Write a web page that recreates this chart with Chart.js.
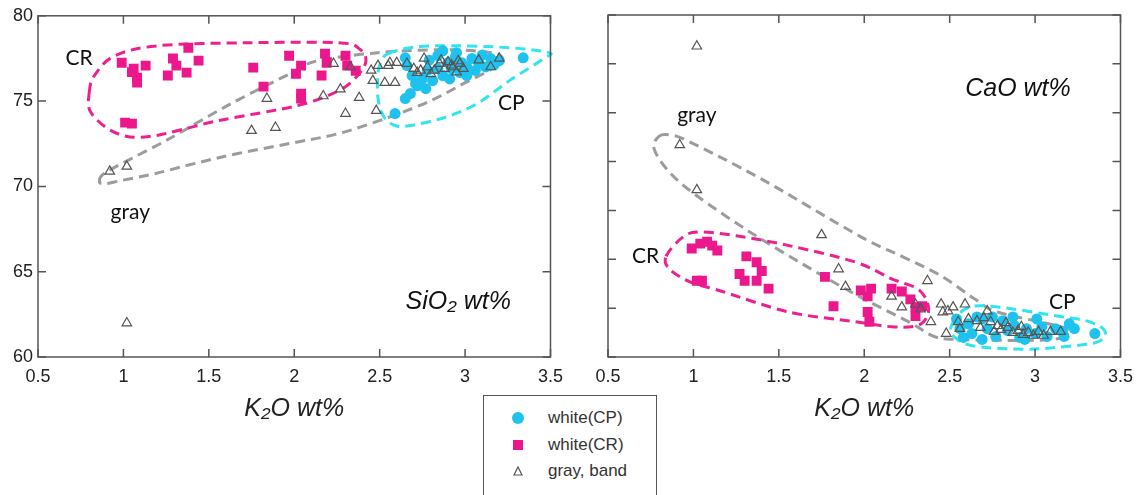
<!DOCTYPE html>
<html lang="en">
<head>
<meta charset="UTF-8">
<title>K2O vs SiO2 / CaO</title>
<script src="https://cdn.jsdelivr.net/npm/chart.js"></script>
<style>
  body { margin: 0; background: #fff; width: 1142px; height: 495px; overflow: hidden; position: relative; font-family: "Liberation Sans", Arial, sans-serif; }
  .panel { position: absolute; top: 0; width: 572px; height: 430px; }
  #leftBox { left: 0; }
  #rightBox { left: 570px; }
  #legend { position: absolute; left: 483px; top: 395px; width: 172px; height: 110px; border: 1.5px solid #555; background: #fff; z-index: 5; }
  .row { position: absolute; left: 0; height: 20px; width: 100%; }
  .row span.txt { position: absolute; left: 64px; top: 0; font-size: 17px; line-height: 20px; color: #333; }
  .mk { position: absolute; }
</style>
</head>
<body>
<div class="panel" id="leftBox"><canvas id="siChart"></canvas></div>
<div class="panel" id="rightBox"><canvas id="caChart"></canvas></div>
<div id="legend"></div>

<script>
// ---- data ----
const seriesNames = ['white(CP)', 'white(CR)', 'gray, band'];
const xTicks = [0.5, 1, 1.5, 2, 2.5, 3, 3.5];
const siTicks = [60, 65, 70, 75, 80];

// SiO2 panel
const siCPx = [2.65, 2.66, 2.69, 2.71, 2.65, 2.59, 2.68, 2.72, 2.75, 2.78, 2.79, 2.84, 2.84, 2.87, 2.90, 2.92, 2.94, 2.97, 2.98, 3.01, 3.04, 3.06, 3.08, 3.12, 3.15, 3.17, 3.20, 3.34, 2.81, 2.77, 2.91, 3.01, 3.10, 2.87, 2.95];
const siCPy = [77.54, 77.08, 76.49, 76.02, 75.15, 74.27, 75.44, 75.90, 76.30, 76.80, 77.40, 77.66, 76.90, 76.49, 77.25, 76.90, 77.54, 76.67, 77.25, 77.00, 77.50, 76.80, 77.25, 77.00, 77.49, 77.13, 77.37, 77.54, 76.20, 75.73, 76.30, 76.50, 77.70, 77.95, 77.84];
const siCRx = [0.99, 1.06, 1.08, 1.08, 1.05, 1.13, 1.26, 1.29, 1.31, 1.37, 1.38, 1.44, 1.01, 1.05, 1.76, 1.82, 1.97, 2.01, 2.04, 2.04, 2.04, 2.16, 2.18, 2.19, 2.30, 2.31, 2.36];
const siCRy = [77.25, 76.90, 76.37, 76.08, 76.70, 77.08, 76.50, 77.50, 77.08, 76.67, 78.13, 77.37, 73.74, 73.68, 76.96, 75.85, 77.66, 76.60, 77.08, 75.44, 75.15, 76.50, 77.78, 77.25, 77.66, 77.08, 76.78];
const siGrayx = [0.92, 1.02, 1.02, 1.75, 1.84, 1.89, 2.17, 2.27, 2.30, 2.38, 2.23, 2.33, 2.45, 2.46, 2.48, 2.49, 2.53, 2.55, 2.56, 2.59, 2.60, 2.66, 2.72, 2.76, 2.78, 2.82, 2.85, 2.88, 2.90, 2.93, 2.95, 2.97, 2.99, 3.08, 3.15, 3.20, 2.70, 2.80, 2.86, 2.92, 2.96, 2.74];
const siGrayy = [70.88, 71.17, 61.99, 73.27, 75.15, 73.45, 75.30, 75.70, 74.27, 75.20, 77.20, 77.00, 76.80, 76.20, 74.44, 77.08, 76.08, 77.08, 77.25, 76.08, 77.25, 77.20, 76.67, 77.50, 77.00, 76.80, 77.20, 76.90, 77.30, 77.00, 76.70, 77.20, 76.90, 77.40, 77.00, 77.50, 76.90, 76.60, 77.40, 77.10, 77.35, 76.80];

// CaO panel (no tick labels in the source)
const caCPx = [2.54, 2.56, 2.61, 2.63, 2.69, 2.72, 2.77, 2.81, 2.84, 2.88, 2.91, 2.95, 3.00, 3.04, 3.07, 3.12, 3.16, 3.20, 3.23, 3.35, 2.66, 2.75, 2.87, 3.01, 3.17, 2.58, 2.69, 2.94];
const caCPy = [0.39, 0.29, 0.34, 0.24, 0.39, 0.29, 0.21, 0.37, 0.27, 0.32, 0.20, 0.29, 0.24, 0.31, 0.21, 0.29, 0.26, 0.34, 0.29, 0.24, 0.41, 0.41, 0.41, 0.39, 0.21, 0.20, 0.18, 0.18];
const caCRx = [0.99, 1.04, 1.08, 1.11, 1.14, 1.02, 1.05, 1.31, 1.37, 1.40, 1.27, 1.30, 1.37, 1.44, 1.77, 1.82, 1.98, 2.02, 2.04, 2.02, 2.03, 2.16, 2.22, 2.27, 2.30, 2.30, 2.34];
const caCRy = [1.11, 1.16, 1.18, 1.14, 1.09, 0.78, 0.78, 1.03, 0.97, 0.88, 0.85, 0.78, 0.78, 0.70, 0.82, 0.52, 0.68, 0.62, 0.70, 0.46, 0.36, 0.70, 0.67, 0.59, 0.51, 0.42, 0.52];
const caGrayx = [1.02, 0.92, 1.02, 1.75, 1.85, 1.89, 2.37, 2.22, 2.16, 2.30, 2.33, 2.39, 2.45, 2.46, 2.49, 2.52, 2.48, 2.59, 2.61, 2.55, 2.56, 2.66, 2.72, 2.74, 2.78, 2.80, 2.84, 2.87, 2.90, 2.93, 2.96, 2.99, 3.02, 3.05, 3.09, 3.15, 2.70, 2.83, 2.92, 2.76, 2.68];
const caGrayy = [3.18, 2.17, 1.71, 1.25, 0.90, 0.72, 0.78, 0.51, 0.62, 0.54, 0.49, 0.36, 0.54, 0.46, 0.47, 0.51, 0.24, 0.54, 0.39, 0.36, 0.29, 0.37, 0.47, 0.36, 0.32, 0.28, 0.30, 0.25, 0.27, 0.23, 0.25, 0.22, 0.26, 0.22, 0.26, 0.26, 0.40, 0.35, 0.31, 0.26, 0.30];

// dashed group outlines, in data units
const siOutCR = [[0.80,75.5],[0.83,76.49],[0.95,77.66],[1.21,78.25],[1.73,78.42],[2.26,78.42],[2.38,78.07],[2.42,77.37],[2.37,76.49],[2.26,75.61],[2.02,74.74],[1.56,73.86],[1.15,72.92],[0.95,73.16],[0.81,74.33]];
const siOutGray = [[0.86,70.3],[0.91,70.9],[1.25,72.69],[1.63,74.85],[2.01,76.78],[2.14,77.37],[2.49,77.84],[2.88,78.01],[3.15,77.84],[3.22,77.49],[3.17,76.96],[2.99,76.02],[2.80,75.03],[2.55,74.04],[2.26,73.1],[1.97,72.51],[1.67,71.93],[1.42,71.35],[1.19,70.76],[0.99,70.35],[0.89,70.16]];
const siOutCP = [[2.55,77.78],[2.68,78.13],[2.88,78.25],[3.26,78.13],[3.49,77.84],[3.46,77.49],[3.26,76.2],[3.07,74.85],[2.88,74.04],[2.68,73.57],[2.59,73.57],[2.52,74.15],[2.49,75.2],[2.49,76.61],[2.51,77.37]];
const caOutGray = [[0.80,2.26],[0.87,2.27],[0.98,2.20],[1.40,1.82],[1.97,1.24],[2.22,1.03],[2.45,0.83],[2.65,0.59],[2.78,0.46],[3.13,0.32],[3.19,0.27],[3.14,0.19],[2.94,0.17],[2.55,0.18],[2.41,0.21],[2.26,0.36],[1.97,0.62],[1.66,0.93],[1.33,1.28],[1.02,1.65],[0.86,1.89],[0.77,2.13]];
const caOutCR = [[0.84,1.03],[0.94,1.23],[1.04,1.28],[1.25,1.24],[1.56,1.14],[1.95,0.97],[2.16,0.80],[2.31,0.70],[2.37,0.56],[2.37,0.42],[2.31,0.32],[2.16,0.31],[1.95,0.36],[1.56,0.46],[1.17,0.67],[0.98,0.77],[0.86,0.90]];
const caOutCP = [[2.51,0.32],[2.59,0.49],[2.74,0.52],[3.13,0.42],[3.32,0.36],[3.41,0.26],[3.36,0.15],[3.13,0.10],[2.94,0.08],[2.65,0.11],[2.53,0.20]];

const colCP = '#1ec2ef', colCR = '#ec178c', colGray = '#555';
const lineCP = '#2ee6f0', lineCR = '#ee1f8f', lineGray = '#9c9c9c';

function pts(xs, ys) { return xs.map((x, i) => ({ x: x, y: ys[i] })); }

function closedSpline(ctx, p) {
    const n = p.length;
    ctx.moveTo(p[0][0], p[0][1]);
    for (let i = 0; i < n; i++) {
        const p0 = p[(i - 1 + n) % n], p1 = p[i], p2 = p[(i + 1) % n], p3 = p[(i + 2) % n];
        ctx.bezierCurveTo(p1[0] + (p2[0] - p0[0]) / 6, p1[1] + (p2[1] - p0[1]) / 6,
                          p2[0] - (p3[0] - p1[0]) / 6, p2[1] - (p3[1] - p1[1]) / 6,
                          p2[0], p2[1]);
    }
    ctx.closePath();
}

function makeDecor(outlines, notes) {
    return {
        id: 'decor',
        beforeDatasetsDraw(chart) {
            const { ctx, scales: { x, y } } = chart;
            ctx.save();
            ctx.lineWidth = 3;
            ctx.setLineDash([10, 6]);
            outlines.forEach(o => {
                const p = o.pts.map(d => [x.getPixelForValue(d[0]), y.getPixelForValue(d[1])]);
                ctx.strokeStyle = o.color;
                ctx.beginPath();
                closedSpline(ctx, p);
                ctx.stroke();
            });
            ctx.restore();
        },
        afterDraw(chart) {
            const { ctx, chartArea: a, scales: { x, y } } = chart;
            ctx.save();
            // frame + inward ticks
            ctx.strokeStyle = '#555';
            ctx.lineWidth = 1.5;
            ctx.strokeRect(a.left, a.top, a.right - a.left, a.bottom - a.top);
            ctx.beginPath();
            x.ticks.forEach(t => {
                const px = x.getPixelForValue(t.value);
                ctx.moveTo(px, a.bottom); ctx.lineTo(px, a.bottom - 8);
                ctx.moveTo(px, a.top); ctx.lineTo(px, a.top + 8);
            });
            y.ticks.forEach(t => {
                const py = y.getPixelForValue(t.value);
                ctx.moveTo(a.left, py); ctx.lineTo(a.left + 8, py);
                ctx.moveTo(a.right, py); ctx.lineTo(a.right - 8, py);
            });
            ctx.stroke();
            // text notes
            ctx.fillStyle = '#111';
            ctx.textAlign = 'center';
            ctx.textBaseline = 'middle';
            notes.forEach(n => {
                ctx.font = n.font;
                ctx.fillText(n.text, x.getPixelForValue(n.x), y.getPixelForValue(n.y));
            });
            ctx.restore();
        }
    };
}

function makeChart(id, data, yMin, yMax, yStep, showY, outlines, notes) {
    const fam = '"Liberation Sans", Arial, sans-serif';
    return new Chart(document.getElementById(id), {
        type: 'scatter',
        data: {
            datasets: [
                { label: seriesNames[2], data: data[2], pointStyle: 'triangle', pointRadius: 5.5, backgroundColor: 'rgba(0,0,0,0)', borderColor: colGray, borderWidth: 1.2, order: 0 },
                { label: seriesNames[0], data: data[0], pointStyle: 'circle', pointRadius: 5.5, backgroundColor: colCP, borderColor: colCP, borderWidth: 0, order: 1 },
                { label: seriesNames[1], data: data[1], pointStyle: 'rect', pointRadius: 7, backgroundColor: colCR, borderColor: colCR, borderWidth: 0, order: 2 }
            ]
        },
        options: {
            responsive: true,
            maintainAspectRatio: false,
            animation: false,
            layout: { padding: { top: 15, right: 18, left: 0, bottom: 0 } },
            plugins: { legend: { display: false }, tooltip: { enabled: false } },
            scales: {
                x: {
                    type: 'linear', min: xTicks[0], max: xTicks[xTicks.length - 1],
                    afterBuildTicks: s => { s.ticks = xTicks.map(v => ({ value: v })); },
                    ticks: { callback: v => String(v), font: { size: 18, family: fam }, color: '#222', padding: 9, maxRotation: 0, autoSkip: false },
                    grid: { display: false, drawTicks: false },
                    border: { display: false },
                    title: { display: true, text: 'K\u2082O wt%', font: { size: 25, style: 'italic', family: fam }, color: '#222', padding: { top: 0, bottom: 6 } },
                    afterFit: s => { s.height = 73; }
                },
                y: {
                    type: 'linear', min: yMin, max: yMax,
                    ticks: { stepSize: yStep, display: showY, font: { size: 18, family: fam }, color: '#222', padding: 5 },
                    grid: { display: false, drawTicks: false },
                    border: { display: false },
                    afterFit: s => { s.width = 38; }
                }
            }
        },
        plugins: [makeDecor(outlines, notes)]
    });
}

const noteFont = '21px Lato, "Open Sans", sans-serif';
const italFont = 'italic 25px "Liberation Sans", Arial, sans-serif';

makeChart('siChart',
    [pts(siCPx, siCPy), pts(siCRx, siCRy), pts(siGrayx, siGrayy)],
    siTicks[0], siTicks[siTicks.length - 1], 5, true,
    [{ pts: siOutGray, color: lineGray }, { pts: siOutCR, color: lineCR }, { pts: siOutCP, color: lineCP }],
    [{ text: 'CR', x: 0.74, y: 77.5, font: noteFont },
     { text: 'gray', x: 1.04, y: 68.5, font: noteFont },
     { text: 'CP', x: 3.27, y: 74.85, font: noteFont },
     { text: 'SiO\u2082 wt%', x: 2.96, y: 63.2, font: italFont }]);

makeChart('caChart',
    [pts(caCPx, caCPy), pts(caCRx, caCRy), pts(caGrayx, caGrayy)],
    0, 3.5, 0.5, false,
    [{ pts: caOutGray, color: lineGray }, { pts: caOutCR, color: lineCR }, { pts: caOutCP, color: lineCP }],
    [{ text: 'gray', x: 1.02, y: 2.47, font: noteFont },
     { text: 'CaO wt%', x: 2.9, y: 2.74, font: italFont },
     { text: 'CR', x: 0.72, y: 1.03, font: noteFont },
     { text: 'CP', x: 3.16, y: 0.56, font: noteFont }]);

// legend box between the panels
const legend = document.getElementById('legend');
const marks = [
    '<div class="mk" style="left:28px;top:4px;width:12px;height:12px;border-radius:50%;background:' + colCP + '"></div>',
    '<div class="mk" style="left:29px;top:5px;width:10px;height:10px;background:' + colCR + '"></div>',
    '<svg class="mk" style="left:29px;top:5px" width="10" height="10"><polygon points="5,1 9,9 1,9" fill="none" stroke="' + colGray + '" stroke-width="1.2"/></svg>'
];
seriesNames.forEach((name, i) => {
    const row = document.createElement('div');
    row.className = 'row';
    row.style.top = (12 + i * 26.5) + 'px';
    row.innerHTML = marks[i] + '<span class="txt">' + name + '</span>';
    legend.appendChild(row);
});
</script>
</body>
</html>
